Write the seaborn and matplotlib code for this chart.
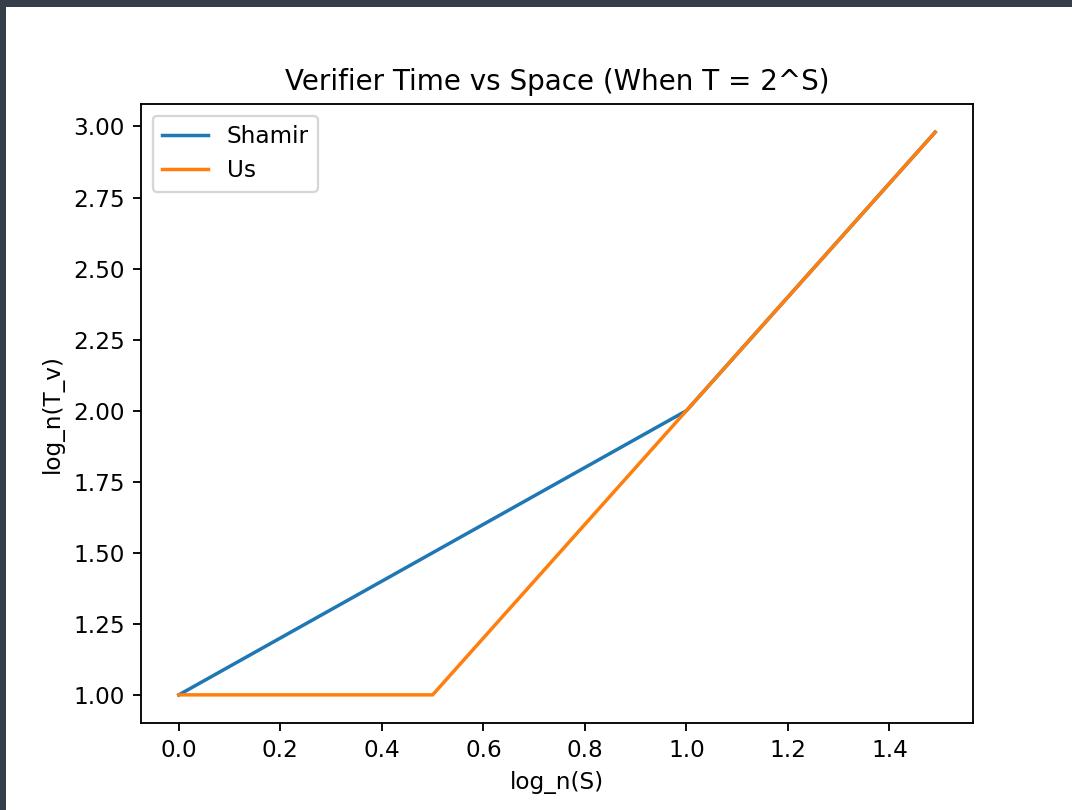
import matplotlib
matplotlib.use("Agg")
import matplotlib.pyplot as plt
import seaborn as sns
from matplotlib.patches import Rectangle

# values (breakpoints of each line)
shamir_x = [0.0, 1.0, 1.49]
shamir_y = [1.0, 2.0, 2.98]
us_x = [0.0, 0.5, 1.0, 1.49]
us_y = [1.0, 1.0, 2.0, 2.98]

dpi = 166.7
fig = plt.figure(figsize=(1072 / dpi, 810 / dpi), dpi=dpi)
fig.patch.set_facecolor("#343f4a")
# white area of the screenshot
fig.patches.append(Rectangle((6 / 1072, 0), 1, 803 / 810, transform=fig.transFigure,
                             facecolor="white", edgecolor="none", zorder=-10))

ax = fig.add_axes([141 / 1072, 87 / 810, 832 / 1072, 619 / 810])
sns.lineplot(x=shamir_x, y=shamir_y, ax=ax, label="Shamir", color="#1f77b4")
sns.lineplot(x=us_x, y=us_y, ax=ax, label="Us", color="#ff7f0e")

ax.set_title("Verifier Time vs Space (When T = 2^S)")
ax.set_xlabel("log_n(S)")
ax.set_ylabel("log_n(T_v)")
ax.legend(loc="upper left")

fig.savefig("out.png", dpi=dpi, facecolor=fig.get_facecolor())
